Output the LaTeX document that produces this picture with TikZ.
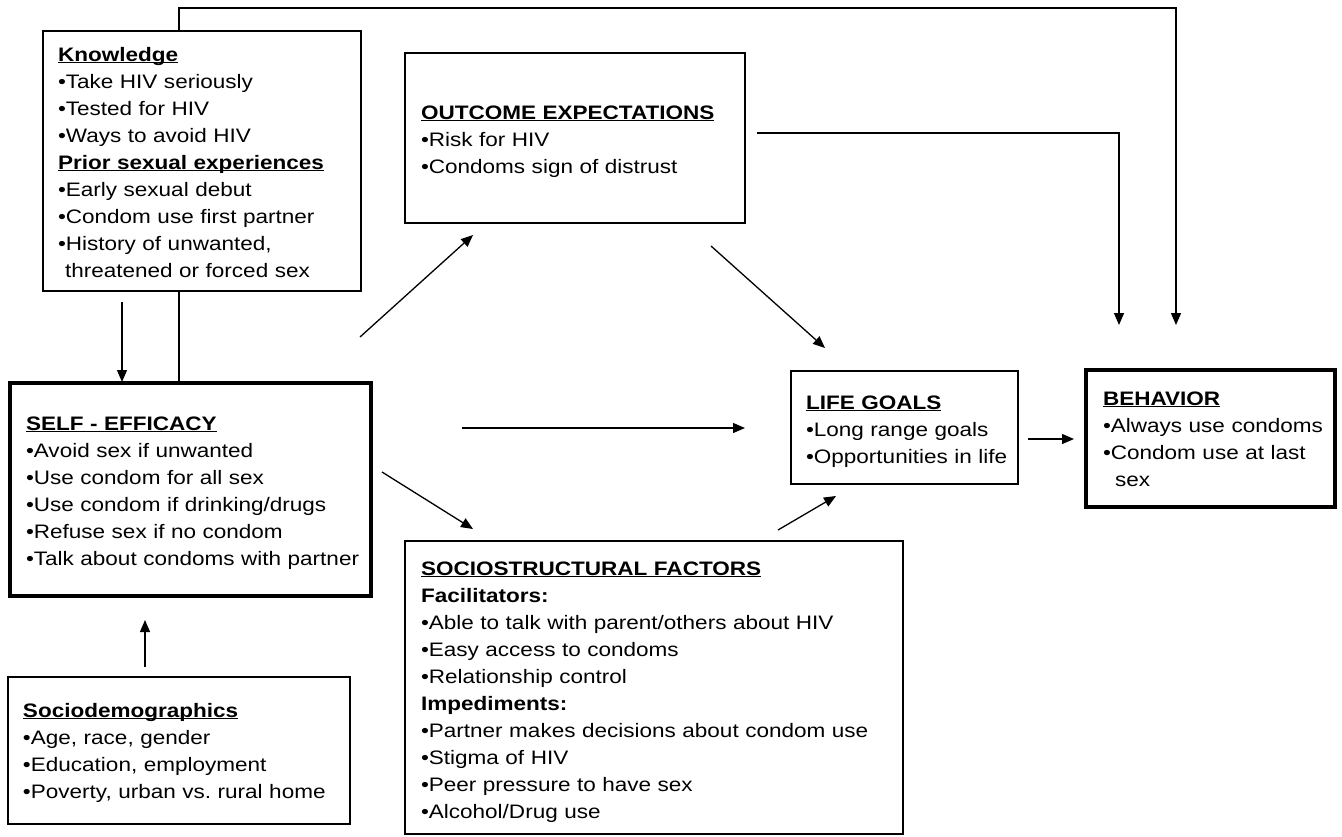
\documentclass[tikz,border=0pt]{standalone}
\usepackage{fontspec}
\setmainfont[FakeStretch=1.155]{Liberation Sans}
\usetikzlibrary{arrows.meta}
\newcommand\hd[1]{\leavevmode\setbox0\hbox{\bfseries #1}\rlap{\rule[-2.2pt]{\wd0}{1.4pt}}\box0}
\begin{document}
\frenchspacing
\begin{tikzpicture}[x=1pt,y=-1pt,
  box/.style={draw,line width=1.3pt,inner sep=0,outer sep=0,anchor=north west},
  tbox/.style={box,line width=3.5pt},
  txt/.style={anchor=base west,inner sep=0,outer sep=0,align=left,text width=560pt,
    font=\fontsize{19.5}{27}\selectfont\frenchspacing},
  arr/.style={line width=1.3pt,-{Triangle[length=12pt,width=10pt]}},
  ln/.style={line width=1.3pt}]
\useasboundingbox (0,0) rectangle (1342,836);

% boxes
\node[box,minimum width=318pt,minimum height=260pt] (know) at (43,31) {};
\node[tbox,minimum width=361pt,minimum height=213pt] (se) at (10,383) {};
\node[box,minimum width=340pt,minimum height=170pt] (oe) at (405,53) {};
\node[box,minimum width=227pt,minimum height=113pt] (lg) at (791,371) {};
\node[tbox,minimum width=249pt,minimum height=137pt] (beh) at (1086,370) {};
\node[box,minimum width=498pt,minimum height=293pt] (ss) at (405,541) {};
\node[box,minimum width=342pt,minimum height=147pt] (sd) at (8,677) {};

% texts
\node[txt] (knowT) at (58,61) {\hd{Knowledge}\\
•Take HIV seriously\\
•Tested for HIV\\
•Ways to avoid HIV\\
\hd{Prior sexual experiences}\\
•Early sexual debut\\
•Condom use first partner\\
•History of unwanted,\\
\hspace*{7pt}threatened or forced sex};

\node[txt] (seT) at (26,430) {\hd{SELF - EFFICACY}\\
•Avoid sex if unwanted\\
•Use condom for all sex\\
•Use condom if drinking/drugs\\
•Refuse sex if no condom\\
•Talk about condoms with partner};

\node[txt] (oeT) at (421,119) {\hd{OUTCOME EXPECTATIONS}\\
•Risk for HIV\\
•Condoms sign of distrust};

\node[txt] (lgT) at (806,409) {\hd{LIFE GOALS}\\
•Long range goals\\
•Opportunities in life};

\node[txt] (behT) at (1103,405) {\hd{BEHAVIOR}\\
•Always use condoms\\
•Condom use at last\\
\hspace*{12pt}sex};

\node[txt] (ssT) at (421,575) {\hd{SOCIOSTRUCTURAL FACTORS}\\
\textbf{Facilitators:}\\
•Able to talk with parent/others about HIV\\
•Easy access to condoms\\
•Relationship control\\
\textbf{Impediments:}\\
•Partner makes decisions about condom use\\
•Stigma of HIV\\
•Peer pressure to have sex\\
•Alcohol/Drug use};

\node[txt] (sdT) at (23,717) {\hd{Sociodemographics}\\
•Age, race, gender\\
•Education, employment\\
•Poverty, urban vs. rural home};

% connector coordinates
\coordinate (k2seS) at (122,302);
\coordinate (k2seE) at (122,382);
\coordinate (sd2seS) at (145,667);
\coordinate (sd2seE) at (145,620);
\coordinate (se2oeS) at (360,337);
\coordinate (se2oeE) at (473,235);
\coordinate (se2lgS) at (462,428);
\coordinate (se2lgE) at (745,428);
\coordinate (se2ssS) at (382,472);
\coordinate (se2ssE) at (473,529);
\coordinate (oe2lgS) at (711,246);
\coordinate (oe2lgE) at (825,348);
\coordinate (ss2lgS) at (778,530);
\coordinate (ss2lgE) at (836,496);
\coordinate (lg2bS) at (1028,439);
\coordinate (lg2bE) at (1074,439);
\coordinate (oe2bS) at (757,133);
\coordinate (oe2bE) at (1119,325);
\coordinate (top1) at (179,8);
\coordinate (topE) at (1176,325);

% connectors
\draw[arr] (k2seS) -- (k2seE);
\draw[arr] (sd2seS) -- (sd2seE);
\draw[arr] (se2oeS) -- (se2oeE);
\draw[arr] (se2lgS) -- (se2lgE);
\draw[arr] (se2ssS) -- (se2ssE);
\draw[arr] (oe2lgS) -- (oe2lgE);
\draw[arr] (ss2lgS) -- (ss2lgE);
\draw[arr] (lg2bS) -- (lg2bE);
\draw[arr] (oe2bS) -| (oe2bE);
\draw[ln] (se.north -| top1) -- (know.south -| top1);
\draw[arr] (know.north -| top1) -- (top1) -| (topE);
\end{tikzpicture}
\end{document}
